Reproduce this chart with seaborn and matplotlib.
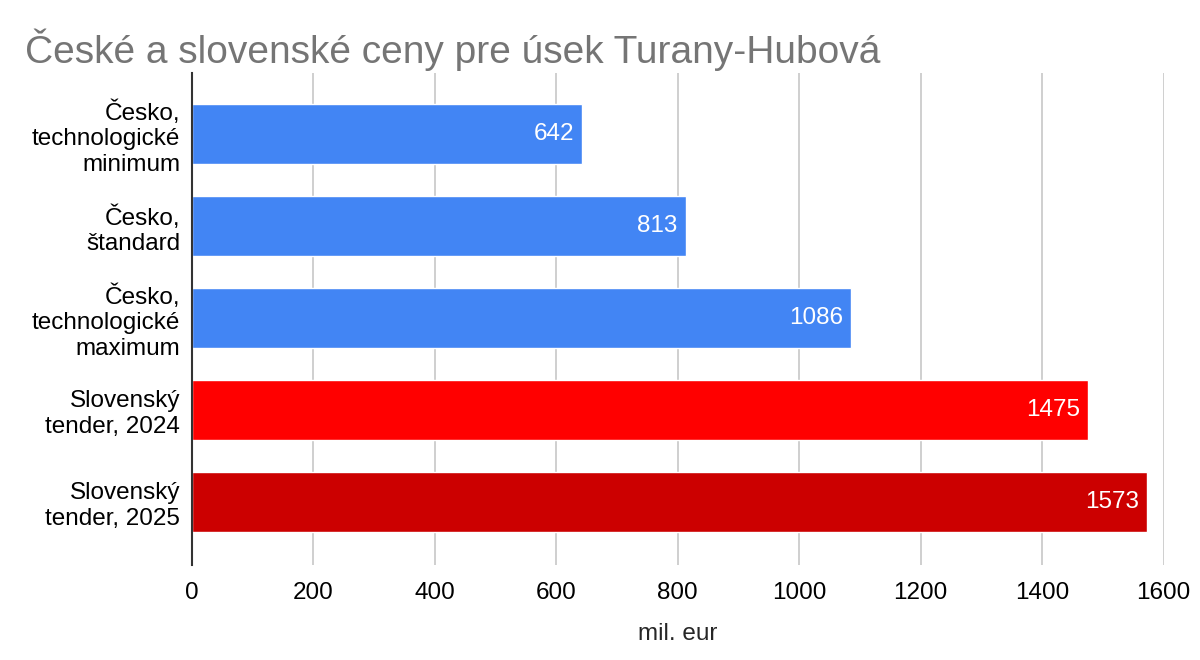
import matplotlib
matplotlib.use("Agg")
import matplotlib.pyplot as plt
import seaborn as sns
import pandas as pd

categories = [
    "Česko,\ntechnologické\nminimum",
    "Česko,\nštandard",
    "Česko,\ntechnologické\nmaximum",
    "Slovenský\ntender, 2024",
    "Slovenský\ntender, 2025",
]
values = [642, 813, 1086, 1475, 1573]
colors = ["#4285f4", "#4285f4", "#4285f4", "#ff0000", "#cc0000"]
x_ticks = [0, 200, 400, 600, 800, 1000, 1200, 1400, 1600]

sns.set_style("white")
plt.rcParams["font.family"] = ["Liberation Sans", "DejaVu Sans"]

df = pd.DataFrame({"cat": categories, "val": values})

fig = plt.figure(figsize=(12, 6.6), dpi=100)
ax = fig.add_axes([192 / 1200, 1 - 565 / 660, (1163.5 - 192) / 1200, (565 - 73) / 660])

sns.barplot(data=df, x="val", y="cat", hue="cat", palette=colors,
            width=0.65, legend=False, ax=ax, saturation=1)

# value labels inside the bar ends
for i, v in enumerate(values):
    ax.text(v - 13, i, str(v), ha="right", va="center", color="white", fontsize=17.5)

ax.set_xlim(0, 1600)
ax.set_ylim(4.685, -0.663)
ax.set_xticks(x_ticks)
ax.xaxis.grid(True, color="#cccccc", linewidth=1.3)
ax.set_axisbelow(True)
for s in ["top", "right", "bottom"]:
    ax.spines[s].set_visible(False)
ax.spines["left"].set_color("#333333")
ax.spines["left"].set_linewidth(1.5)
ax.tick_params(axis="both", length=0, labelsize=17.5, labelcolor="#000000")
ax.tick_params(axis="x", pad=12)
ax.tick_params(axis="y", pad=8.5)
for lbl in ax.get_yticklabels():
    lbl.set_horizontalalignment("right")
    lbl.set_multialignment("right")
ax.set_xlabel("mil. eur", fontsize=17.5, labelpad=14)
ax.set_ylabel("")

fig.text(25 / 1200, 1 - 50 / 660, "České a slovenské ceny pre úsek Turany-Hubová",
         fontsize=28, color="#757575", va="center", ha="left")

fig.savefig("out.png", dpi=100)
